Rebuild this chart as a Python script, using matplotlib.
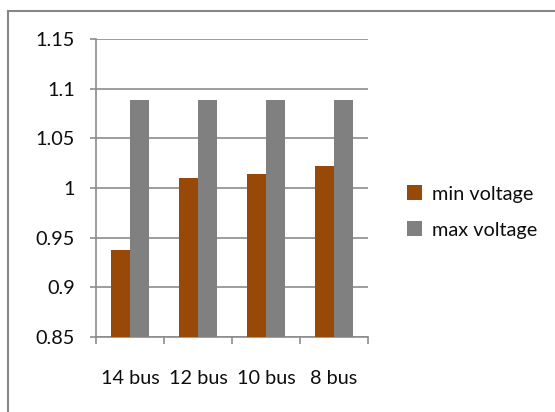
import matplotlib
matplotlib.use("Agg")
import matplotlib.pyplot as plt
from matplotlib.lines import Line2D
import numpy as np

categories = ["14 bus", "12 bus", "10 bus", "8 bus"]
min_voltage = [0.938, 1.010, 1.014, 1.022]
max_voltage = [1.089, 1.089, 1.089, 1.089]
series_names = ["min voltage", "max voltage"]
y_ticks = [0.85, 0.9, 0.95, 1.0, 1.05, 1.1, 1.15]
y_tick_labels = ["0.85", "0.9", "0.95", "1", "1.05", "1.1", "1.15"]

plt.rcParams["font.family"] = ["Lato", "DejaVu Sans"]

W, H, DPI = 555, 412, 100
fig = plt.figure(figsize=(W / DPI, H / DPI), dpi=DPI)
fig.patch.set_facecolor("white")

left, right, top, bottom = 96, 368, 39, 337
ax = fig.add_axes([left / W, 1 - bottom / H, (right - left) / W, (bottom - top) / H])

grid_color = "#8c8c8c"
text_color = "#0d0d0d"
c_min = "#984807"
c_max = "#808080"
fs = 14.3

x = np.arange(len(categories))
bw = 1 / 3.5
ax.bar(x - bw / 2, [v - 0.85 for v in min_voltage], bw, bottom=0.85, color=c_min, zorder=3, label=series_names[0])
ax.bar(x + bw / 2, [v - 0.85 for v in max_voltage], bw, bottom=0.85, color=c_max, zorder=3, label=series_names[1])

ax.set_xlim(-0.5, len(categories) - 0.5)
ax.set_ylim(0.85, 1.15)
ax.set_yticks(y_ticks)
ax.set_yticklabels(y_tick_labels, fontsize=fs, color=text_color)
ax.yaxis.grid(True, color=grid_color, linewidth=1.2, zorder=0)
ax.set_axisbelow(True)

ax.set_xticks(x)
ax.set_xticklabels(categories, fontsize=fs, color=text_color)
ax.set_xticks(np.arange(-0.5, len(categories)), minor=True)
ax.tick_params(axis="x", which="major", length=0, pad=24)
ax.tick_params(axis="x", which="minor", length=5, width=1.2, color=grid_color)
ax.tick_params(axis="y", length=4.3, width=1.2, color=grid_color, pad=11)

for s in ["top", "right"]:
    ax.spines[s].set_visible(False)
for s in ["left", "bottom"]:
    ax.spines[s].set_color(grid_color)
    ax.spines[s].set_linewidth(1.2)

leg = fig.legend(loc="center left", bbox_to_anchor=(399 / W, 1 - 212 / H),
                 frameon=False, fontsize=fs, handlelength=0.75, handleheight=0.75,
                 handletextpad=0.5, labelspacing=0.95, borderaxespad=0)
for t in leg.get_texts():
    t.set_color(text_color)

# chart frame
fig.add_artist(Line2D([8 / W, 1.0], [1 - 11 / H, 1 - 11 / H], color="#878787", linewidth=1.5))
fig.add_artist(Line2D([8 / W, 8 / W], [1 - 11 / H, 0.0], color="#878787", linewidth=1.5))

fig.savefig("out.png", dpi=DPI)
